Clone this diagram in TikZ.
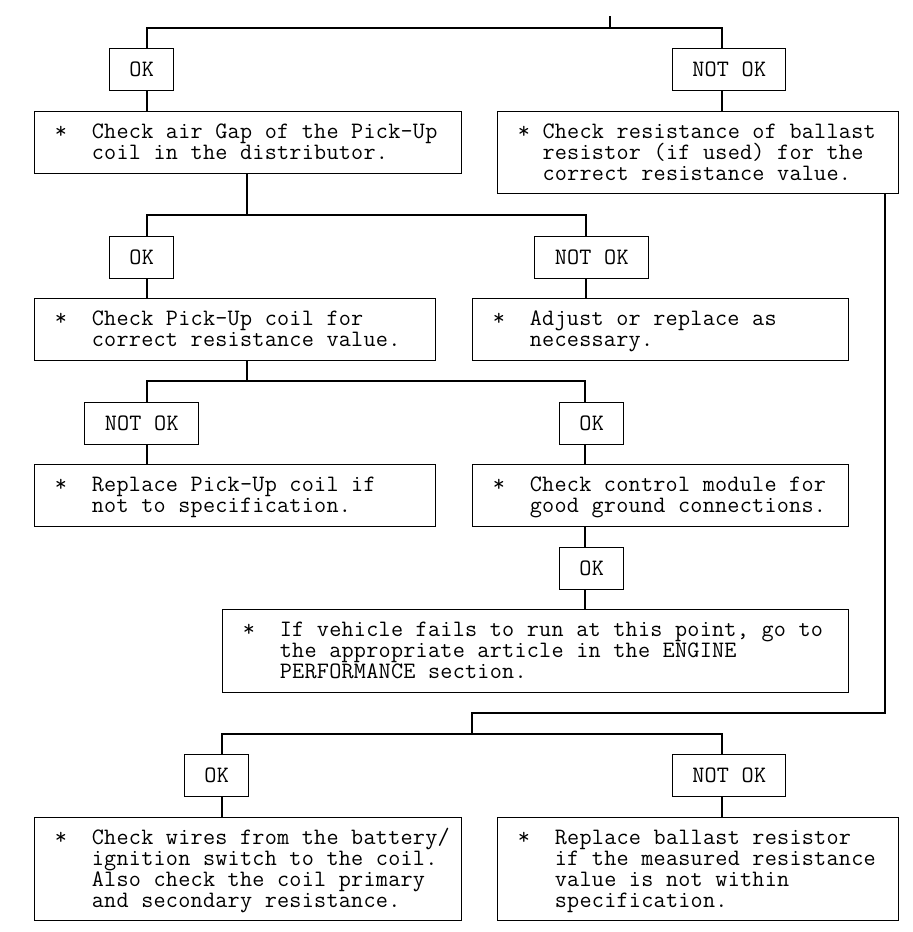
\documentclass[tikz,border=0pt]{standalone}
\usepackage{fontspec}
\usetikzlibrary{calc}
\ExplSyntaxOn
\NewDocumentCommand\mono{m}{\str_map_inline:nn {#1} {\makebox[12.35pt]{##1}}}
\ExplSyntaxOff
\newcommand\monofont{\ttfamily\fontsize{23.5}{20.8}\selectfont}
\newcommand\fst[1]{\mbox{\mono{*}\hspace*{24.7pt}\mono{#1}}}
\newcommand\nxt[1]{\mbox{\hspace*{37.05pt}\mono{#1}}}
\newcommand\snd[1]{\mbox{\hspace*{24.7pt}\mono{#1}}}
\tikzset{
  flow/.style={line width=1.4pt, line cap=rect},
  bigbox/.style={draw, line width=1.4pt, anchor=north west, inner xsep=20pt, inner ysep=0pt,
    align=left, text height=27pt, font=\monofont},
  tag/.style={draw, line width=1.4pt, anchor=north west, inner sep=0pt, minimum height=42pt,
    text height=28pt, text depth=14pt, font=\monofont},
}
\begin{document}
\begin{tikzpicture}[x=1pt,y=1pt]
\useasboundingbox (0,0) rectangle (913,-932);
% boxes
\node[bigbox, text width=387pt, text depth=35pt] (A) at (34,-111)
  {\fst{Check air Gap of the Pick-Up}\\\nxt{coil in the distributor.}};
\node[bigbox, text width=361pt, text depth=55pt] (B) at (497,-111)
  {\mbox{\mono{* Check resistance of ballast}}\\\snd{resistor (if used) for the}\\\snd{correct resistance value.}};
\node[bigbox, text width=361pt, text depth=35pt] (C) at (34,-298)
  {\fst{Check Pick-Up coil for}\\\nxt{correct resistance value.}};
\node[bigbox, text width=336pt, text depth=35pt] (D) at (472,-298)
  {\fst{Adjust or replace as}\\\nxt{necessary.}};
\node[bigbox, text width=361pt, text depth=35pt] (E) at (34,-464)
  {\fst{Replace Pick-Up coil if}\\\nxt{not to specification.}};
\node[bigbox, text width=336pt, text depth=35pt] (F) at (472,-464)
  {\fst{Check control module for}\\\nxt{good ground connections.}};
\node[bigbox, text width=586pt, text depth=56pt] (G) at (222,-609)
  {\fst{If vehicle fails to run at this point, go to}\\\nxt{the appropriate article in the ENGINE}\\\nxt{PERFORMANCE section.}};
\node[bigbox, text width=387pt, text depth=76pt] (H) at (34,-817)
  {\fst{Check wires from the battery/}\\\nxt{ignition switch to the coil.}\\\nxt{Also check the coil primary}\\\nxt{and secondary resistance.}};
\node[bigbox, text width=361pt, text depth=76pt] (I) at (497,-817)
  {\fst{Replace ballast resistor}\\\nxt{if the measured resistance}\\\nxt{value is not within}\\\nxt{specification.}};
% tags
\node[tag, minimum width=64pt] (ok1) at (109,-48) {\mono{OK}};
\node[tag, minimum width=113pt] (nok1) at (672,-48) {\mono{NOT OK}};
\node[tag, minimum width=64pt] (ok2) at (109,-236) {\mono{OK}};
\node[tag, minimum width=114pt] (nok2) at (534,-236) {\mono{NOT OK}};
\node[tag, minimum width=114pt] (nok3) at (84,-402) {\mono{NOT OK}};
\node[tag, minimum width=64pt] (ok3) at (559,-402) {\mono{OK}};
\node[tag, minimum width=64pt] (ok4) at (559,-547) {\mono{OK}};
\node[tag, minimum width=64pt] (ok5) at (184,-754) {\mono{OK}};
\node[tag, minimum width=113pt] (nok5) at (672,-754) {\mono{NOT OK}};
% junctions
\coordinate (start) at (610,-17);
\coordinate (j1) at (610,-28);
\coordinate (j2) at (247,-215);
\coordinate (j3) at (247,-381);
\coordinate (bend) at (472,-713);
\coordinate (j4) at (472,-734);
% connectors
\draw[flow] (start) -- (j1);
\draw[flow] (j1) -| ([xshift=38pt]ok1.north west);
\draw[flow] (j1) -| ([xshift=50pt]nok1.north west);
\draw[flow] ([xshift=38pt]ok1.south west) -- ([xshift=38pt]ok1.south west |- A.north);
\draw[flow] ([xshift=50pt]nok1.south west) -- ([xshift=50pt]nok1.south west |- B.north);
\draw[flow] ([xshift=213pt]A.south west) -- (j2);
\draw[flow] (j2) -| ([xshift=38pt]ok2.north west);
\draw[flow] (j2) -| ([xshift=52pt]nok2.north west);
\draw[flow] ([xshift=38pt]ok2.south west) -- ([xshift=38pt]ok2.south west |- C.north);
\draw[flow] ([xshift=52pt]nok2.south west) -- ([xshift=52pt]nok2.south west |- D.north);
\draw[flow] ([xshift=213pt]C.south west) -- (j3);
\draw[flow] (j3) -| ([xshift=63pt]nok3.north west);
\draw[flow] (j3) -| ([xshift=26pt]ok3.north west);
\draw[flow] ([xshift=63pt]nok3.south west) -- ([xshift=63pt]nok3.south west |- E.north);
\draw[flow] ([xshift=26pt]ok3.south west) -- ([xshift=26pt]ok3.south west |- F.north);
\draw[flow] ([xshift=113pt]F.south west) -- ([xshift=26pt]ok4.north west);
\draw[flow] ([xshift=26pt]ok4.south west) -- ([xshift=26pt]ok4.south west |- G.north);
\draw[flow] ([xshift=388pt]B.south west) |- (bend) -- (j4);
\draw[flow] (j4) -| ([xshift=38pt]ok5.north west);
\draw[flow] (j4) -| ([xshift=50pt]nok5.north west);
\draw[flow] ([xshift=38pt]ok5.south west) -- ([xshift=38pt]ok5.south west |- H.north);
\draw[flow] ([xshift=50pt]nok5.south west) -- ([xshift=50pt]nok5.south west |- I.north);
\end{tikzpicture}
\end{document}
